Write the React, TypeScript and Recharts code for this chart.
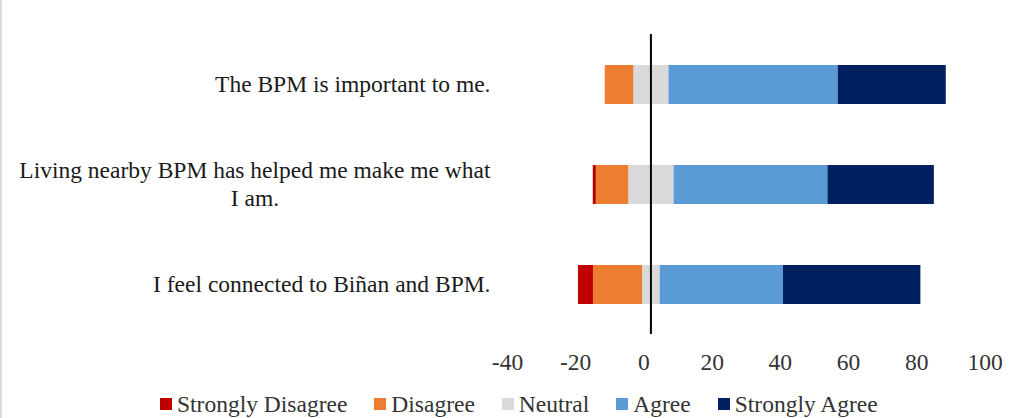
import { BarChart, Bar, XAxis, YAxis, ReferenceLine } from 'recharts'

// Likert responses (% of respondents) per statement, top to bottom
const statements = [
  'The BPM is important to me.',
  'Living nearby BPM has helped me make me what I am.',
  'I feel connected to Biñan and BPM.',
]
const stronglyDisagree = [0, 0.9, 4.4]
const disagree = [8.4, 9.5, 14.4]
const neutral = [10.3, 13.3, 5.2]
const agree = [49.6, 45.1, 36.1]
const stronglyAgree = [31.7, 31.2, 40.3]
const xTicks = [-40, -20, 0, 20, 40, 60, 80, 100]

const COLORS = {
  stronglyDisagree: '#C00000',
  disagree: '#ED7D31',
  neutral: '#D9D9D9',
  agree: '#5B9BD5',
  stronglyAgree: '#002060',
}

const legendItems = [
  { name: 'Strongly Disagree', color: COLORS.stronglyDisagree },
  { name: 'Disagree', color: COLORS.disagree },
  { name: 'Neutral', color: COLORS.neutral },
  { name: 'Agree', color: COLORS.agree },
  { name: 'Strongly Agree', color: COLORS.stronglyAgree },
]

const FONT = '"Liberation Serif", "Times New Roman", serif'
const FONT_SIZE = 23.5
const LABEL_MAX = 484
const LINE_H = 28

// neutral is split around zero so the bar diverges from the midpoint
const rows = statements.map((statement, i) => ({
  statement,
  neutralLow: -neutral[i] / 2,
  disagree: -disagree[i],
  stronglyDisagree: -stronglyDisagree[i],
  neutralHigh: neutral[i] / 2,
  agree: agree[i],
  stronglyAgree: stronglyAgree[i],
}))

const ctx = document.createElement('canvas').getContext('2d')

function textWidth(s: string) {
  if (!ctx) return s.length * FONT_SIZE * 0.45
  ctx.font = `${FONT_SIZE}px ${FONT}`
  return ctx.measureText(s).width
}

function wrapWords(text: string, max: number) {
  const lines: string[] = []
  let cur = ''
  text.split(' ').forEach(w => {
    const next = cur ? `${cur} ${w}` : w
    if (cur && textWidth(next) > max) {
      lines.push(cur)
      cur = w
    } else {
      cur = next
    }
  })
  if (cur) lines.push(cur)
  return lines
}

// category labels: block is right aligned, each line centred inside it
function StatementTick({ x, y, payload }: any) {
  const lines = wrapWords(payload.value, LABEL_MAX)
  const block = Math.max(...lines.map(textWidth))
  const cx = x - block / 2
  const top = y - ((lines.length - 1) * LINE_H) / 2
  return (
    <text x={cx} textAnchor="middle" fontFamily={FONT} fontSize={FONT_SIZE} fill="#1a1a1a">
      {lines.map((l, i) => (
        <tspan key={i} x={cx} y={top + i * LINE_H} dy="0.35em">
          {l}
        </tspan>
      ))}
    </text>
  )
}

function ValueTick({ x, y, payload }: any) {
  return (
    <text x={x - 7} y={y} dy="0.71em" textAnchor="middle" fontFamily={FONT} fontSize={FONT_SIZE} fill="#333">
      {payload.value}
    </text>
  )
}

export default function App() {
  return (
    <div style={{ position: 'relative', width: 1024, height: 418, background: '#fff', overflow: 'hidden' }}>
      <style>{'body{margin:0}'}</style>
      <div style={{ position: 'absolute', left: 0, top: 0, width: 2, height: 418, background: '#dcdcdc' }} />
      <BarChart
        width={1024}
        height={380}
        data={rows}
        layout="vertical"
        stackOffset="sign"
        margin={{ top: 34, right: 32, bottom: 0, left: 0 }}
      >
        <XAxis
          type="number"
          domain={[-40, 100]}
          ticks={xTicks}
          interval={0}
          axisLine={false}
          tickLine={false}
          tickSize={0}
          tickMargin={19}
          height={46}
          tick={<ValueTick />}
        />
        <YAxis
          type="category"
          dataKey="statement"
          width={514.5}
          interval={0}
          axisLine={false}
          tickLine={false}
          tickSize={0}
          tickMargin={24}
          tick={<StatementTick />}
        />
        <Bar dataKey="neutralLow" stackId="a" fill={COLORS.neutral} barSize={39} isAnimationActive={false} />
        <Bar dataKey="disagree" stackId="a" fill={COLORS.disagree} barSize={39} isAnimationActive={false} />
        <Bar dataKey="stronglyDisagree" stackId="a" fill={COLORS.stronglyDisagree} barSize={39} isAnimationActive={false} />
        <Bar dataKey="neutralHigh" stackId="a" fill={COLORS.neutral} barSize={39} isAnimationActive={false} />
        <Bar dataKey="agree" stackId="a" fill={COLORS.agree} barSize={39} isAnimationActive={false} />
        <Bar dataKey="stronglyAgree" stackId="a" fill={COLORS.stronglyAgree} barSize={39} isAnimationActive={false} />
        <ReferenceLine x={0} stroke="#000" strokeWidth={2} />
      </BarChart>
      <div
        style={{
          position: 'absolute',
          top: 391,
          left: 160,
          display: 'flex',
          gap: 27,
          fontFamily: FONT,
          fontSize: FONT_SIZE,
          lineHeight: '26px',
          color: '#333',
          whiteSpace: 'nowrap',
        }}
      >
        {legendItems.map(item => (
          <div key={item.name} style={{ display: 'flex', alignItems: 'center', gap: 5 }}>
            <span style={{ width: 12, height: 12, background: item.color, display: 'inline-block' }} />
            <span>{item.name}</span>
          </div>
        ))}
      </div>
    </div>
  )
}
